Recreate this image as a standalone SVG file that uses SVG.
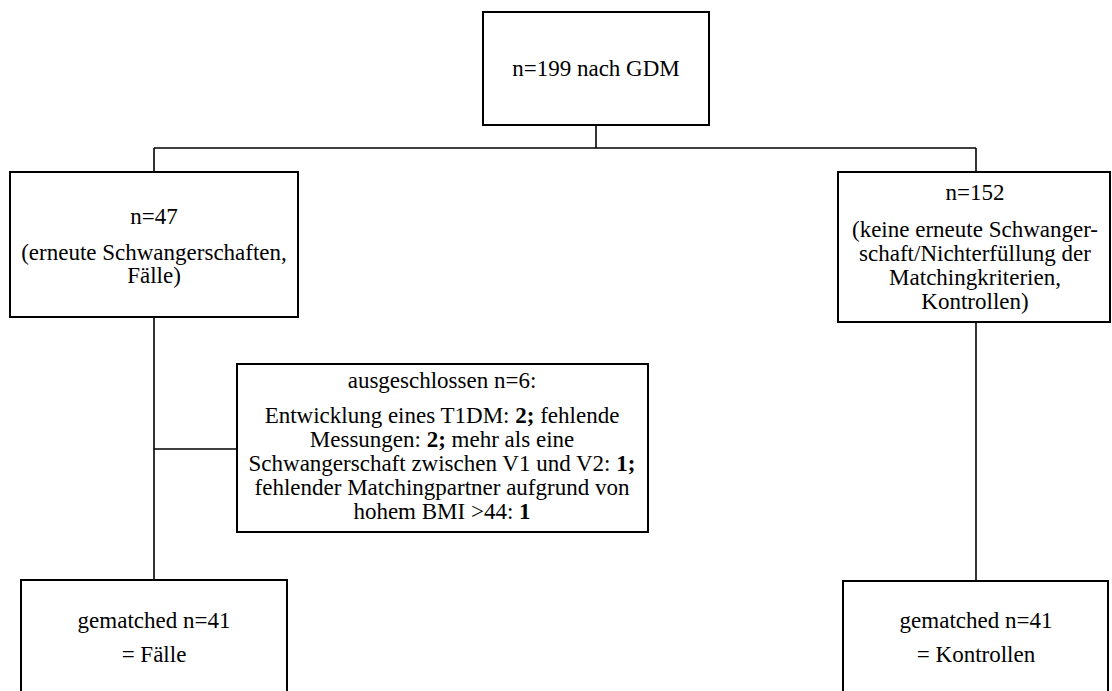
<svg xmlns="http://www.w3.org/2000/svg" width="1112" height="691" viewBox="0 0 1112 691">
<style>
.box{fill:#fff;stroke:#000;stroke-width:2}
.con{stroke:#000;stroke-width:1.6;fill:none}
.t{font-family:"Liberation Serif","Times New Roman",Tinos,"DejaVu Serif",serif;font-size:23px;fill:#000;text-anchor:middle}
.b{font-weight:bold}
</style>
<rect width="1112" height="691" fill="#fff"/>
<g id="connectors">
<line class="con" x1="596" y1="125" x2="596" y2="148"/>
<line class="con" x1="154" y1="148" x2="976" y2="148"/>
<line class="con" x1="154" y1="148" x2="154" y2="172"/>
<line class="con" x1="976" y1="148" x2="976" y2="172"/>
<line class="con" x1="154" y1="317" x2="154" y2="580"/>
<line class="con" x1="976" y1="322" x2="976" y2="581"/>
<line class="con" x1="154" y1="449" x2="237" y2="449"/>
</g>
<g class="t" font-family="Liberation Serif, serif">
<g id="n199">
<rect class="box" x="483" y="12" width="226" height="113"/>
<text x="596" y="76">n=199 nach GDM</text>
</g>
<g id="n47">
<rect class="box" x="10" y="172" width="288" height="145"/>
<text x="154" y="224">n=47</text>
<text x="154" y="260">(erneute Schwangerschaften,</text>
<text x="154" y="283">Fälle)</text>
</g>
<g id="n152">
<rect class="box" x="838" y="172" width="272" height="150"/>
<text x="975" y="200">n=152</text>
<text x="975" y="237">(keine erneute Schwanger-</text>
<text x="975" y="261">schaft/Nichterfüllung der</text>
<text x="975" y="285">Matchingkriterien,</text>
<text x="975" y="309">Kontrollen)</text>
</g>
<g id="excluded">
<rect class="box" x="237" y="364" width="411" height="168"/>
<text x="442" y="388">ausgeschlossen n=6:</text>
<text x="442" y="423">Entwicklung eines T1DM: <tspan class="b">2;</tspan> fehlende</text>
<text x="442" y="447">Messungen: <tspan class="b">2;</tspan> mehr als eine</text>
<text x="442" y="471">Schwangerschaft zwischen V1 und V2: <tspan class="b">1;</tspan></text>
<text x="442" y="495">fehlender Matchingpartner aufgrund von</text>
<text x="442" y="519">hohem BMI &gt;44: <tspan class="b">1</tspan></text>
</g>
<g id="cases">
<rect class="box" x="21" y="580" width="266" height="130"/>
<text x="154" y="628">gematched n=41</text>
<text x="154" y="662">= Fälle</text>
</g>
<g id="controls">
<rect class="box" x="843" y="581" width="265" height="130"/>
<text x="976" y="628">gematched n=41</text>
<text x="976" y="662">= Kontrollen</text>
</g>
</g>
</svg>
